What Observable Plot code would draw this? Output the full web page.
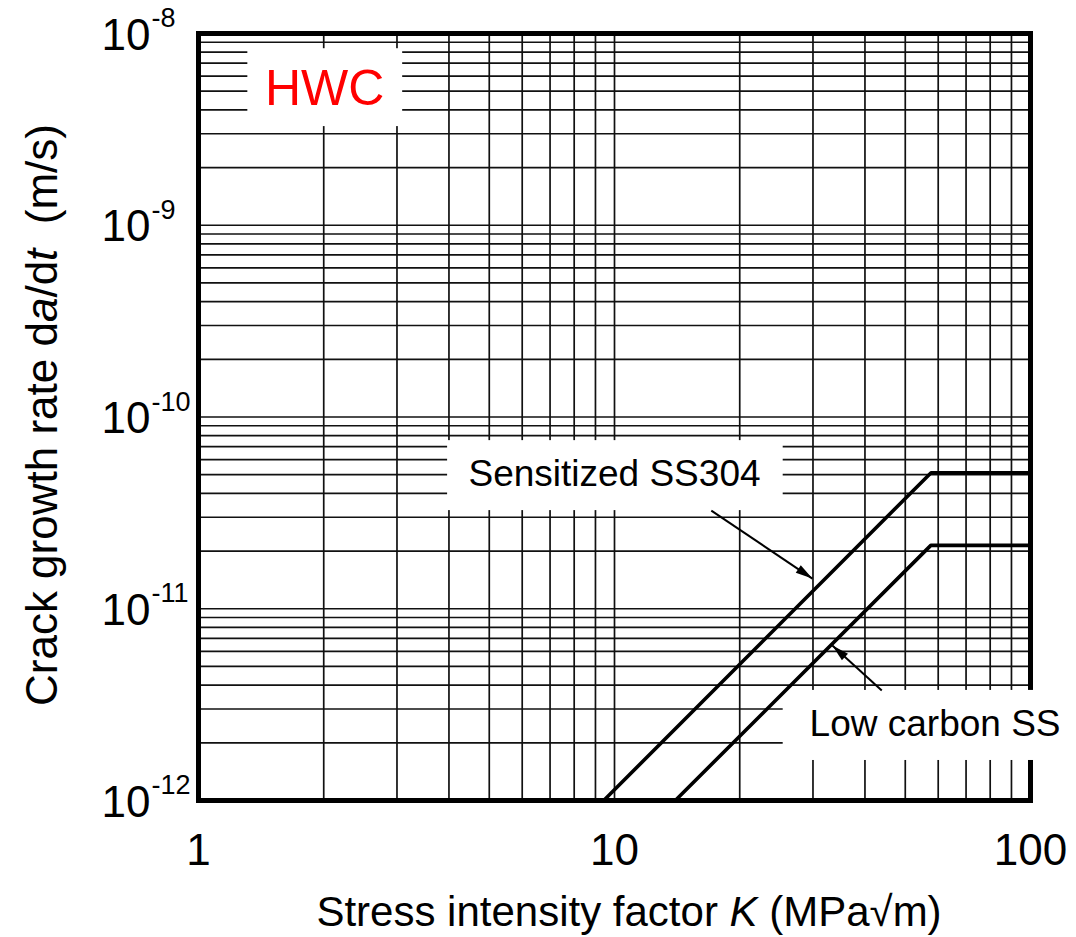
<!DOCTYPE html>
<html><head><meta charset="utf-8">
<script src="https://cdn.jsdelivr.net/npm/d3@7"></script>
<script src="https://cdn.jsdelivr.net/npm/@observablehq/plot@0.6"></script>
<style>body{margin:0;background:#fff;} svg{display:block}</style>
</head><body><div id="chart"></div>
<script>
// ---- data ----
const sensitizedK    = [9.42, 57.6, 100];
const sensitizedRate = [1e-12, 5.11e-11, 5.11e-11];
const lowCarbonK     = [14.0, 57.6, 100];
const lowCarbonRate  = [1e-12, 2.14e-11, 2.14e-11];

const xGridValues = [1,2,3,4,5,6,7,8,9,10,20,30,40,50,60,70,80,90,100];
const yGridValues = [
  1e-12,2e-12,3e-12,4e-12,5e-12,6e-12,7e-12,8e-12,9e-12,
  1e-11,2e-11,3e-11,4e-11,5e-11,6e-11,7e-11,8e-11,9e-11,
  1e-10,2e-10,3e-10,4e-10,5e-10,6e-10,7e-10,8e-10,9e-10,
  1e-9,2e-9,3e-9,4e-9,5e-9,6e-9,7e-9,8e-9,9e-9,1e-8
];
const xTickValues = [1, 10, 100];
const xTickLabels = ["1", "10", "100"];
const yTickValues = [1e-12, 1e-11, 1e-10, 1e-9, 1e-8];
const yTickBase = "10";
const yTickExponents = ["-12", "-11", "-10", "-9", "-8"];

// annotations (data coordinates)
const labelBoxes = [
  {x1: 1.314, x2: 3.096, y1: 3.27e-9, y2: 8.33e-9},    // HWC
  {x1: 3.97,  x2: 25.44, y1: 3.25e-11, y2: 7.53e-11},  // Sensitized SS304
  {x1: 25.44, x2: 150,   y1: 1.617e-12, y2: 3.75e-12}  // Low carbon SS
];
const hwcLabel = [{K: 2.01, rate: 5.16e-9, text: "HWC"}];
const curveLabels = [
  {K: 10.0, rate: 5.04e-11, text: "Sensitized SS304"},
  {K: 58.96, rate: 2.49e-12, text: "Low carbon SS"}
];
const arrows = [
  {K1: 17.09, r1: 3.25e-11, K2: 29.9, r2: 1.437e-11},
  {K1: 43.9,  r1: 3.75e-12, K2: 33.4, r2: 6.43e-12}
];

const sensitized = sensitizedK.map((k, i) => ({K: k, rate: sensitizedRate[i]}));
const lowCarbon  = lowCarbonK.map((k, i) => ({K: k, rate: lowCarbonRate[i]}));

const FONT = "'Liberation Sans', Arial, Helvetica, sans-serif";

function filledArrow(color) {
  const ns = "http://www.w3.org/2000/svg";
  const m = document.createElementNS(ns, "marker");
  m.setAttribute("viewBox", "-18 -6 19 12");
  m.setAttribute("markerWidth", 19);
  m.setAttribute("markerHeight", 12);
  m.setAttribute("markerUnits", "userSpaceOnUse");
  m.setAttribute("orient", "auto");
  m.setAttribute("refX", 0);
  m.setAttribute("refY", 0);
  m.setAttribute("overflow", "visible");
  const p = document.createElementNS(ns, "path");
  p.setAttribute("d", "M0,0L-17,-4.5L-17,4.5Z");
  p.setAttribute("fill", color === "currentColor" ? "black" : color);
  p.setAttribute("stroke", "none");
  m.appendChild(p);
  return m;
}

function build(marker) {
  return Plot.plot({
    width: 1076,
    height: 937,
    marginLeft: 198,
    marginRight: 46,
    marginTop: 33,
    marginBottom: 137,
    style: {fontFamily: FONT, background: "white", color: "black"},
    x: {type: "log", domain: [1, 100], axis: null},
    y: {type: "log", domain: [1e-12, 1e-8], axis: null},
    marks: [
      Plot.ruleX(xGridValues, {x: d => d, stroke: "#111", strokeWidth: 1.7}),
      Plot.ruleY(yGridValues, {y: d => d, stroke: "#111", strokeWidth: 1.7}),
      Plot.frame({stroke: "black", strokeWidth: 5}),
      Plot.rect(labelBoxes, {x1: "x1", x2: "x2", y1: "y1", y2: "y2", fill: "white"}),
      Plot.line(sensitized, {x: "K", y: "rate", stroke: "black", strokeWidth: 3.6, strokeLinejoin: "miter"}),
      Plot.line(lowCarbon, {x: "K", y: "rate", stroke: "black", strokeWidth: 3.6, strokeLinejoin: "miter"}),
      Plot.link(arrows, {x1: "K1", y1: "r1", x2: "K2", y2: "r2", stroke: "black", strokeWidth: 2, markerEnd: marker}),
      Plot.text(hwcLabel, {x: "K", y: "rate", text: "text", fill: "#ff0000", fontSize: 50}),
      Plot.text(curveLabels, {x: "K", y: "rate", text: "text", fill: "black", fontSize: 37}),
      Plot.text(xTickValues, {x: d => d, y: () => 1e-12, text: (d, i) => xTickLabels[i], dy: 50, fontSize: 44, fill: "black"}),
      Plot.text(yTickValues, {y: d => d, text: () => yTickBase, frameAnchor: "left", dx: -97, dy: 2, textAnchor: "start", fontSize: 44, fill: "black"}),
      Plot.text(yTickValues, {y: d => d, text: (d, i) => yTickExponents[i], frameAnchor: "left", dx: -47, dy: -15, textAnchor: "start", fontSize: 27, fill: "black"})
    ]
  });
}

let svg;
try { svg = build(filledArrow); } catch (e) { svg = build("arrow"); }

const s = d3.select(svg);
// x axis title
const xt = s.append("text")
  .attr("x", 629).attr("y", 926)
  .attr("text-anchor", "middle")
  .attr("font-size", 42).attr("font-family", FONT).attr("fill", "black");
xt.append("tspan").text("Stress intensity factor ");
xt.append("tspan").attr("font-style", "italic").text("K");
xt.append("tspan").text("\u00A0(MPa\u221Am)");

// y axis title
const yt = s.append("text")
  .attr("transform", "translate(57,415) rotate(-90)")
  .attr("text-anchor", "middle")
  .attr("font-size", 44).attr("font-family", FONT).attr("fill", "black");
yt.append("tspan").text("Crack growth rate d");
yt.append("tspan").attr("font-style", "italic").text("a");
yt.append("tspan").text("/d");
yt.append("tspan").attr("font-style", "italic").text("t");
yt.append("tspan").text("\u00A0\u00A0(m/s)");

document.getElementById("chart").appendChild(svg);
</script></body></html>
